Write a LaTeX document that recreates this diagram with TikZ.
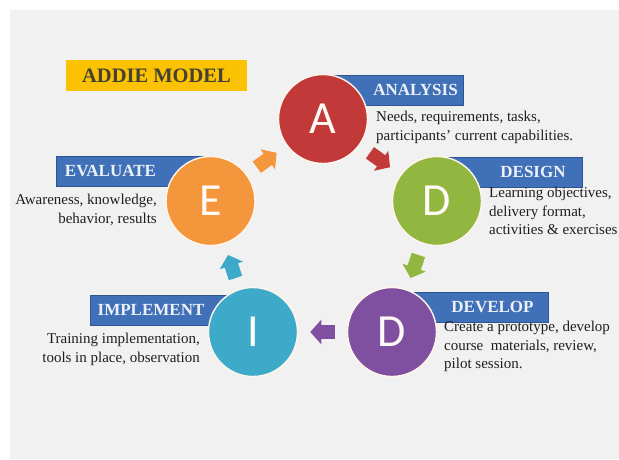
\documentclass[tikz,border=0pt]{standalone}
\usepackage{fontspec}
\setmainfont{Liberation Serif}
\newfontfamily\letterfont{Carlito}
\usepackage{tikz}
\usetikzlibrary{
  calc,%
  arrows.meta,%
  backgrounds,%
  positioning
}
\definecolor{panelgray}{RGB}{241,241,241}
\definecolor{tabblue}{RGB}{64,112,184}
\definecolor{tabedge}{RGB}{46,84,146}
\definecolor{titlegold}{RGB}{250,194,0}
\definecolor{anared}{RGB}{193,57,56}
\definecolor{desgreen}{RGB}{146,183,64}
\definecolor{devpurple}{RGB}{128,80,160}
\definecolor{impcyan}{RGB}{60,170,200}
\definecolor{evaorange}{RGB}{244,150,60}
\tikzset{
  phase/.style={circle, minimum size=89pt, inner sep=0pt, draw=white!92!orange,
    line width=1.4pt, text=white!96!orange,
    font=\letterfont\fontsize{46}{46}\selectfont},
  tab/.style={fill=tabblue, draw=tabedge, line width=0.6pt},
  tabtext/.style={inner sep=0pt, text=white!90!tabblue,
    font=\bfseries\fontsize{17}{17}\selectfont},
  note/.style={inner sep=0pt, text=black!88,
    font=\fontsize{15}{18.5}\selectfont},
  flow/.style={line width=14pt, -{Triangle[length=11pt, width=24pt]}},
}
\begin{document}
\begin{tikzpicture}[x=1pt, y=-1pt]
  \useasboundingbox (0,0) rectangle (619,459);
  % the five phases
  \node[phase, fill=anared] (a) at (323,119) {A};%
  \node[phase, fill=desgreen] (d1) at (437,201) {D};%
  \node[phase, fill=devpurple] (d2) at (392,332) {D};%
  \node[phase, fill=impcyan] (i) at (253,332) {I};%
  \node[phase, fill=evaorange] (e) at (210.5,201) {E};%
  % block arrows between the phases
  \draw[flow, anared] ($(a)!0.412!(d1)$) -- ($(a)!0.588!(d1)$);%
  \draw[flow, desgreen] ($(d1)!0.412!(d2)$) -- ($(d1)!0.588!(d2)$);%
  \draw[flow, devpurple] ($(d2)!0.412!(i)$) -- ($(d2)!0.588!(i)$);%
  \draw[flow, impcyan] ($(i)!0.412!(e)$) -- ($(i)!0.588!(e)$);%
  \draw[flow, evaorange] ($(e)!0.412!(a)$) -- ($(e)!0.588!(a)$);%
  \begin{scope}[on background layer]
    \fill[panelgray] (10,10) rectangle (619,459);%
    \node[fill=titlegold, minimum width=181pt, minimum height=31pt, text=black!85!yellow,
      font=\bfseries\fontsize{20.5}{20.5}\selectfont] (title) at (156.5,75.5) {ADDIE MODEL};%
    % tabs tucked behind the circles
    \draw[tab] (a.center |- 0,75) rectangle (463,105);%
    \node[tabtext] (analbl) at (415.5,90) {ANALYSIS};%
    \draw[tab] (d1.center |- 0,157) rectangle (582,187);%
    \node[tabtext] (deslbl) at (533,172) {DESIGN};%
    \draw[tab] (d2.center |- 0,292) rectangle (548,322);%
    \node[tabtext] (devlbl) at (492.5,307) {DEVELOP};%
    \draw[tab] (90,295) rectangle (i.center |- 0,325);%
    \node[tabtext] (implbl) at (151,310) {IMPLEMENT};%
    \draw[tab] (56,156) rectangle (e.center |- 0,186);%
    \node[tabtext] (evalbl) at (110.5,171) {EVALUATE};%
  \end{scope}
  % descriptions
  \node[note, anchor=north west, align=left] (ananote) at (376,111)
    {Needs, requirements, tasks,\\participants' current capabilities.};%
  \node[note, anchor=north west, align=left] (desnote) at (489,187)
    {Learning objectives,\\delivery format,\\activities \& exercises};%
  \node[note, anchor=north west, align=left] (devnote) at (444,321)
    {Create a prototype, develop\\course\ \ materials, review,\\pilot session.};%
  \node[note, anchor=north east, align=right] (impnote) at (200,333)
    {Training implementation,\\tools in place, observation};%
  \node[note, anchor=north east, align=right] (evanote) at (157,194)
    {Awareness, knowledge,\\behavior, results};%
\end{tikzpicture}
\end{document}
